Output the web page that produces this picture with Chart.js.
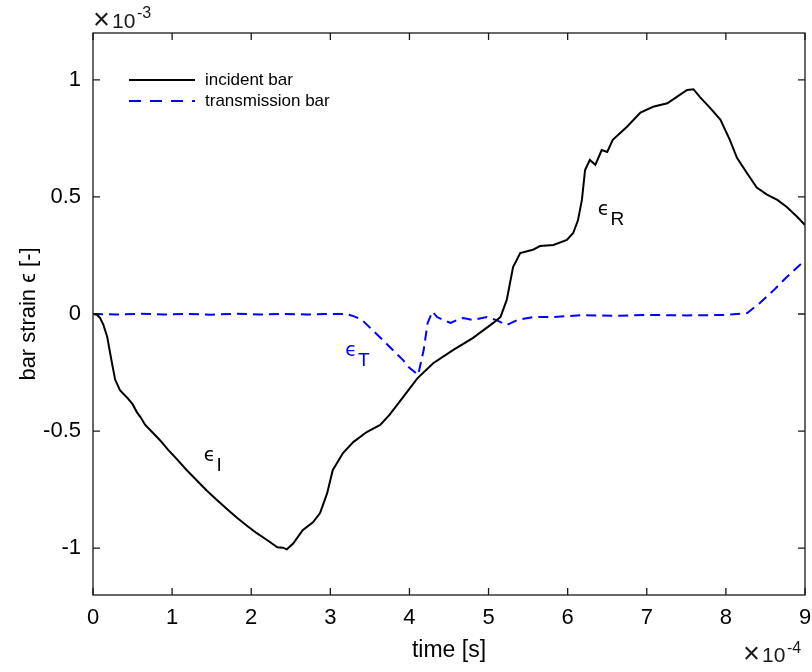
<!DOCTYPE html>
<html>
<head>
<meta charset="utf-8">
<script src="https://cdn.jsdelivr.net/npm/chart.js@4/dist/chart.umd.min.js"></script>
<style>
  body { margin: 0; background: #fff; }
</style>
</head>
<body>
<canvas id="strainChart" width="812" height="672"></canvas>
<script>
// time in units of 1e-4 s, strain in units of 1e-3
const incidentTime = [0, 0.05, 0.09, 0.13, 0.18, 0.21, 0.24, 0.28, 0.34, 0.44, 0.50, 0.556, 0.60, 0.66, 0.75, 0.85, 0.95, 1.06, 1.18, 1.31, 1.44, 1.57, 1.70, 1.82, 1.95, 2.07, 2.20, 2.33, 2.40, 2.45, 2.53, 2.65, 2.78, 2.87, 2.96, 3.03, 3.16, 3.29, 3.46, 3.63, 3.75, 3.92, 4.10, 4.30, 4.55, 4.80, 5.06, 5.15, 5.23, 5.31, 5.40, 5.56, 5.65, 5.82, 5.99, 6.07, 6.13, 6.18, 6.22, 6.28, 6.35, 6.43, 6.50, 6.57, 6.75, 6.92, 7.08, 7.26, 7.38, 7.51, 7.59, 7.67, 7.80, 7.93, 8.05, 8.14, 8.27, 8.39, 8.52, 8.65, 8.77, 8.90, 9.0];
const incidentStrain = [0, -0.003, -0.017, -0.045, -0.098, -0.155, -0.21, -0.28, -0.325, -0.36, -0.385, -0.42, -0.44, -0.474, -0.505, -0.54, -0.58, -0.62, -0.665, -0.71, -0.755, -0.795, -0.835, -0.87, -0.905, -0.936, -0.965, -0.996, -0.998, -1.005, -0.98, -0.923, -0.89, -0.85, -0.765, -0.667, -0.594, -0.547, -0.504, -0.474, -0.43, -0.355, -0.275, -0.21, -0.154, -0.103, -0.038, -0.013, 0.06, 0.20, 0.26, 0.274, 0.29, 0.295, 0.316, 0.346, 0.40, 0.487, 0.615, 0.658, 0.637, 0.70, 0.692, 0.744, 0.80, 0.86, 0.885, 0.90, 0.927, 0.957, 0.96, 0.927, 0.88, 0.83, 0.744, 0.667, 0.60, 0.54, 0.51, 0.487, 0.457, 0.415, 0.38];

const transTime = [0, 0.3, 0.6, 0.9, 1.2, 1.5, 1.8, 2.1, 2.4, 2.7, 3.0, 3.2, 3.3, 3.4, 3.53, 3.66, 3.79, 3.92, 4.0, 4.11, 4.18, 4.23, 4.29, 4.35, 4.43, 4.52, 4.6, 4.68, 4.8, 4.98, 5.1, 5.23, 5.36, 5.56, 5.8, 6.2, 6.6, 7.0, 7.5, 8.0, 8.27, 8.43, 8.6, 8.77, 9.0];
const transStrain = [0, -0.002, 0.001, -0.002, 0, -0.003, 0.001, -0.002, 0, -0.002, 0, 0, -0.01, -0.025, -0.068, -0.11, -0.154, -0.197, -0.23, -0.26, -0.154, -0.038, 0.01, -0.013, -0.026, -0.038, -0.026, -0.017, -0.026, -0.013, -0.026, -0.047, -0.026, -0.013, -0.013, -0.005, -0.008, -0.004, -0.006, -0.004, 0.004, 0.047, 0.10, 0.158, 0.23];

const xTicks = [0, 1, 2, 3, 4, 5, 6, 7, 8, 9];
const yTicks = [-1, -0.5, 0, 0.5, 1];

const seriesNames = ['incident bar', 'transmission bar'];
const curveLabels = [
  { sub: 'I', t: 1.40, v: -0.628, color: '#000000' },
  { sub: 'T', t: 3.19, v: -0.18, color: '#0000ff' },
  { sub: 'R', t: 6.38, v: 0.423, color: '#000000' }
];

const FONT = '"Liberation Sans", Arial, Helvetica, sans-serif';

function zip(xs, ys) {
  return xs.map((x, i) => ({ x: x, y: ys[i] }));
}

const matlabAxes = {
  id: 'matlabAxes',
  afterDraw(chart) {
    const ctx = chart.ctx;
    const a = chart.chartArea;
    const xs = chart.scales.x, ys = chart.scales.y;
    ctx.save();

    // box and inward ticks
    ctx.strokeStyle = '#1a1a1a';
    ctx.lineWidth = 1.3;
    ctx.strokeRect(a.left, a.top, a.right - a.left, a.bottom - a.top);
    ctx.beginPath();
    xTicks.forEach(t => {
      const px = xs.getPixelForValue(t);
      ctx.moveTo(px, a.bottom); ctx.lineTo(px, a.bottom - 7);
      ctx.moveTo(px, a.top); ctx.lineTo(px, a.top + 7);
    });
    yTicks.forEach(v => {
      const py = ys.getPixelForValue(v);
      ctx.moveTo(a.left, py); ctx.lineTo(a.left + 7, py);
      ctx.moveTo(a.right, py); ctx.lineTo(a.right - 7, py);
    });
    ctx.stroke();

    // exponent labels
    ctx.fillStyle = '#1a1a1a';
    ctx.textBaseline = 'alphabetic';
    ctx.textAlign = 'left';
    ctx.font = '29px ' + FONT;
    ctx.fillText('\u00d7', a.left + 0, a.top - 4);
    ctx.font = '21px ' + FONT;
    ctx.fillText('10', a.left + 19, a.top - 5);
    ctx.font = '16px ' + FONT;
    ctx.fillText('-3', a.left + 44, a.top - 15);
    ctx.font = '29px ' + FONT;
    ctx.fillText('\u00d7', a.right - 62, a.bottom + 68);
    ctx.font = '21px ' + FONT;
    ctx.fillText('10', a.right - 43, a.bottom + 67);
    ctx.font = '16px ' + FONT;
    ctx.fillText('-4', a.right - 18, a.bottom + 58);

    // legend
    const lx0 = a.left + 36, lx1 = a.left + 102;
    ctx.lineWidth = 2;
    ctx.strokeStyle = '#000000';
    ctx.beginPath(); ctx.moveTo(lx0, 80); ctx.lineTo(lx1, 80); ctx.stroke();
    ctx.strokeStyle = '#0000ff';
    ctx.setLineDash([12, 9]);
    ctx.beginPath(); ctx.moveTo(lx0, 101); ctx.lineTo(lx1, 101); ctx.stroke();
    ctx.setLineDash([]);
    ctx.fillStyle = '#000000';
    ctx.font = '17px ' + FONT;
    ctx.textBaseline = 'middle';
    ctx.fillText(seriesNames[0], lx1 + 10, 80);
    ctx.fillText(seriesNames[1], lx1 + 10, 101);

    // curve labels
    ctx.textBaseline = 'alphabetic';
    curveLabels.forEach(l => {
      const px = xs.getPixelForValue(l.t), py = ys.getPixelForValue(l.v);
      ctx.fillStyle = l.color;
      ctx.font = '19px "DejaVu Sans", sans-serif';
      ctx.fillText('\u03f5', px, py);
      const w = ctx.measureText('\u03f5').width;
      ctx.font = '19px ' + FONT;
      ctx.fillText(l.sub, px + w + 1, py + 10);
    });
    ctx.restore();
  }
};

new Chart(document.getElementById('strainChart').getContext('2d'), {
  type: 'line',
  data: {
    datasets: [{
      label: seriesNames[0],
      data: zip(incidentTime, incidentStrain),
      borderColor: '#000000',
      borderWidth: 2,
      pointRadius: 0,
      tension: 0
    }, {
      label: seriesNames[1],
      data: zip(transTime, transStrain),
      borderColor: '#0000ff',
      borderWidth: 2,
      borderDash: [10, 6],
      pointRadius: 0,
      tension: 0
    }]
  },
  options: {
    responsive: false,
    animation: false,
    devicePixelRatio: 1,
    layout: { padding: { left: 0, top: 33, right: 7, bottom: 0 } },
    plugins: {
      legend: { display: false },
      tooltip: { enabled: false }
    },
    scales: {
      x: {
        type: 'linear',
        min: 0, max: 9,
        afterBuildTicks: s => { s.ticks = xTicks.map(v => ({ value: v })); },
        afterFit: s => { s.height = 77; s.paddingLeft = 0; s.paddingRight = 0; },
        grid: { display: false, drawTicks: false },
        border: { display: false },
        ticks: { color: '#000', font: { family: FONT, size: 22 }, padding: 10, maxRotation: 0 },
        title: { display: true, text: 'time [s]', color: '#000', font: { family: FONT, size: 23 }, padding: { bottom: 8 } }
      },
      y: {
        type: 'linear',
        min: -1.2, max: 1.2,
        afterBuildTicks: s => { s.ticks = yTicks.map(v => ({ value: v })); },
        afterFit: s => { s.width = 93; s.paddingTop = 0; s.paddingBottom = 0; },
        grid: { display: false, drawTicks: false },
        border: { display: false },
        ticks: { color: '#000', font: { family: FONT, size: 22 }, padding: 12, callback: v => String(v) },
        title: { display: true, text: 'bar strain \u03f5 [-]', color: '#000', font: { family: FONT, size: 22 }, padding: { top: 16 } }
      }
    }
  },
  plugins: [matlabAxes]
});
</script>
</body>
</html>
